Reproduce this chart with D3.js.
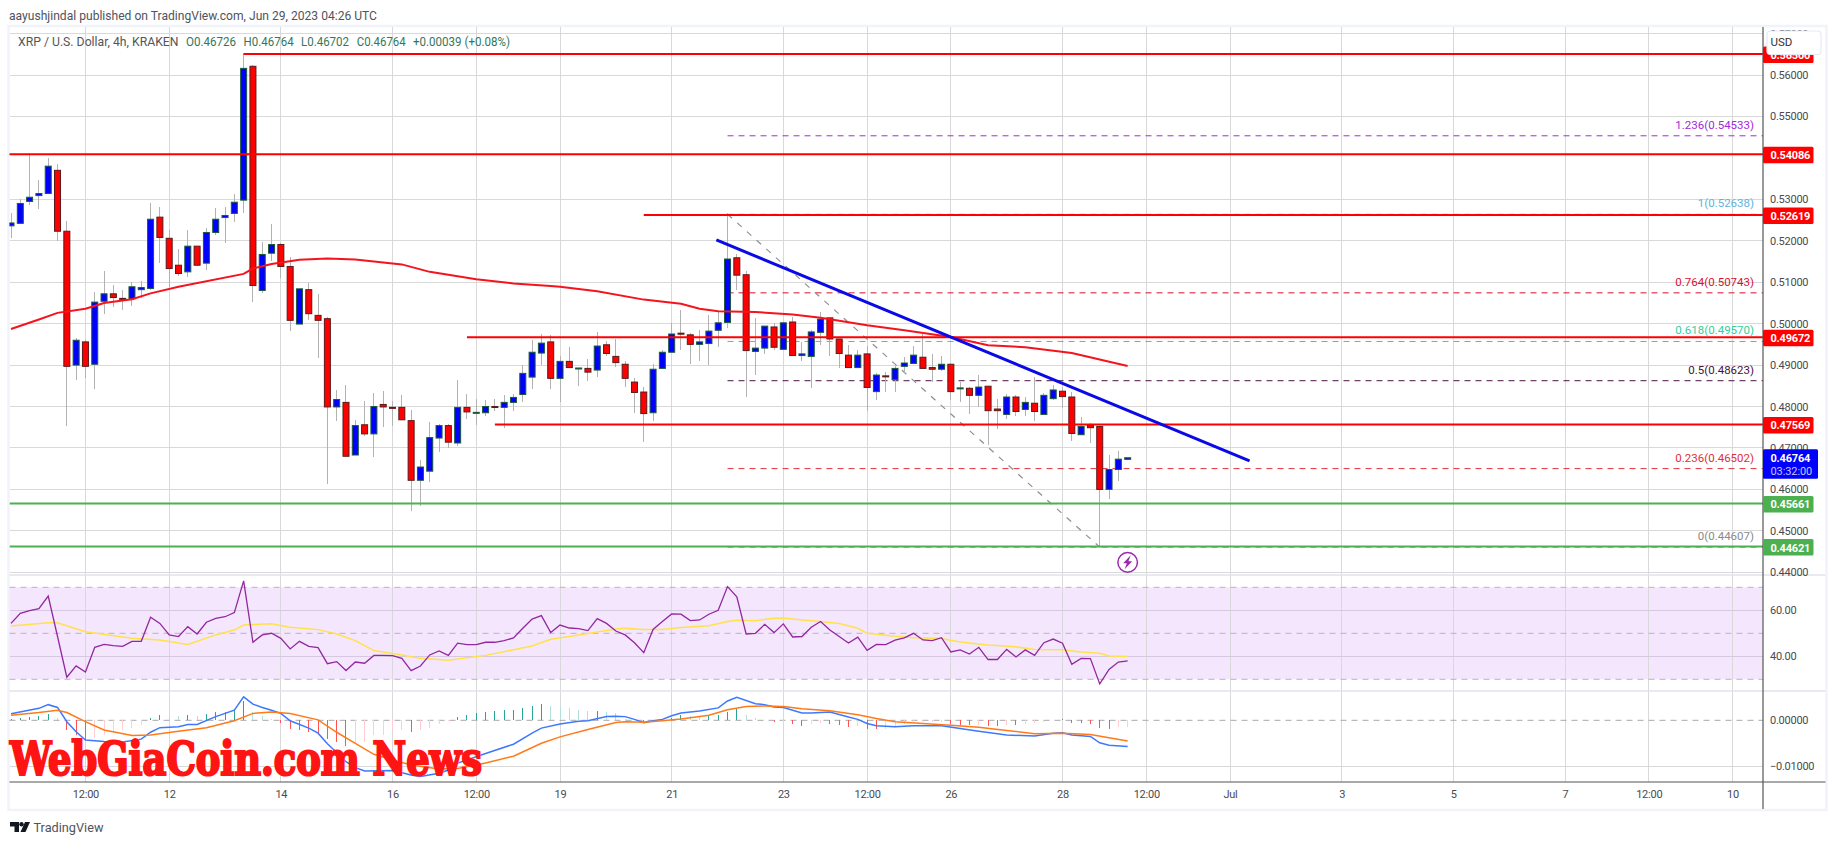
<!DOCTYPE html>
<html>
<head>
<meta charset="utf-8">
<script src="https://cdn.jsdelivr.net/npm/d3@7"></script>
<style>
  html, body { margin: 0; padding: 0; background: #fff; }
  text { font-family: "Roboto", "Liberation Sans", sans-serif; }
</style>
</head>
<body>
<div id="chart"></div>
<script>
// candles, 4h bars
const opens = [.5236,.5242,.5295,.5309,.5314,.5370,.5223,.4900,.4956,.4902,
  .5054,.5072,.5061,.5060,.5082,.5085,.5257,.5206,.5141,.5125,
  .5187,.5146,.5220,.5256,.5266,.5298,.5621,.5080,.5170,.5191,
  .5138,.4999,.5082,.5020,.5012,.4799,.4810,.4683,.4756,.4734,
  .4805,.4798,.4798,.4766,.4622,.4644,.4724,.4754,.4712,.4798,
  .4785,.4785,.4800,.4798,.4810,.4829,.4871,.4929,.4956,.4868,
  .4909,.4892,.4892,.4888,.4949,.4921,.4902,.4859,.4835,.4785,
  .4892,.4931,.4977,.4973,.4950,.4952,.4984,.5003,.5159,.5118,
  .4933,.4941,.4992,.4938,.5004,.4923,.4921,.4979,.5014,.4963,
  .4924,.4894,.4927,.4836,.4874,.4865,.4897,.4904,.4919,.4894,
  .4890,.4902,.4844,.4844,.4827,.4849,.4794,.4781,.4823,.4793,
  .4808,.4781,.4819,.4837,.4823,.4732,.4755,.4752,.4600,.4648,.46726]
const closes = [.5243,.5290,.5305,.5314,.5380,.5223,.4897,.4960,.4897,.5052,
  .5072,.5063,.5060,.5089,.5087,.5252,.5208,.5133,.5121,.5187,
  .5141,.5220,.5252,.5261,.5293,.5616,.5092,.5167,.5191,.5138,
  .5008,.5084,.5024,.5008,.4799,.4817,.4680,.4754,.4734,.4800,
  .4799,.4797,.4768,.4622,.4654,.4725,.4754,.4714,.4798,.4787,
  .4786,.4800,.4798,.4810,.4822,.4880,.4931,.4953,.4868,.4909,
  .4894,.4893,.4883,.4946,.4928,.4906,.4868,.4834,.4783,.4890,
  .4931,.4975,.4975,.4950,.4956,.4982,.5002,.5156,.5117,.4935,
  .4941,.4994,.4943,.5002,.4923,.4927,.4980,.5011,.4963,.4928,
  .4894,.4924,.4846,.4876,.4873,.4892,.4905,.4924,.4892,.4890,
  .4902,.4836,.4845,.4827,.4847,.4790,.4790,.4823,.4788,.4810,
  .4788,.4827,.4840,.4824,.4735,.4752,.4749,.4600,.4648,.4673,.46764]
const highs = [.5266,.5300,.5411,.5347,.5399,.5385,.5248,.4965,.4960,.5077,
  .5127,.5093,.5080,.5101,.5102,.5290,.5281,.5226,.5179,.5226,
  .5187,.5230,.5278,.5281,.5314,.5652,.5625,.5198,.5240,.5195,
  .5160,.5084,.5097,.5071,.5016,.4840,.4852,.4768,.4813,.4832,
  .4837,.4813,.4828,.4791,.4672,.4762,.4759,.4757,.4864,.4830,
  .4818,.4815,.4818,.4828,.4830,.4900,.4961,.4976,.4973,.4922,
  .4944,.4893,.4915,.4981,.4959,.4964,.4910,.4869,.4847,.4903,
  .4937,.5002,.5034,.4977,.4985,.5022,.5027,.5266,.5169,.5128,
  .5014,.4994,.5002,.5003,.5016,.4955,.4985,.5027,.5014,.4963,
  .4949,.4937,.4945,.4882,.4884,.4898,.4919,.4947,.4975,.4927,
  .4921,.4905,.4860,.4847,.4877,.4849,.4819,.4831,.4828,.4824,
  .4871,.4832,.4852,.4848,.4836,.4774,.4761,.4752,.4683,.4693,.46764]
const lows = [.5207,.5240,.5286,.5277,.5314,.5200,.4753,.4865,.4870,.4843,
  .5023,.5040,.5033,.5042,.5063,.5081,.5147,.5089,.5115,.5113,
  .5139,.5129,.5214,.5195,.5246,.5268,.5052,.5075,.5152,.5109,
  .4982,.4999,.5010,.4918,.4614,.4765,.4680,.4683,.4728,.4678,
  .4751,.4752,.4768,.4549,.4560,.4618,.4691,.4700,.4704,.4770,
  .4755,.4777,.4789,.4747,.4789,.4811,.4843,.4900,.4843,.4811,
  .4894,.4849,.4862,.4872,.4922,.4896,.4847,.4785,.4715,.4764,
  .4892,.4931,.4937,.4903,.4910,.4901,.4943,.4989,.5082,.4824,
  .4877,.4927,.4937,.4938,.4921,.4911,.4844,.4948,.4923,.4894,
  .4894,.4894,.4790,.4816,.4834,.4835,.4881,.4904,.4892,.4860,
  .4885,.4816,.4811,.4782,.4800,.4707,.4745,.4771,.4776,.4778,
  .4766,.4781,.4816,.4796,.4718,.4732,.4713,.4461,.4577,.4621,.46702]

// moving average over the candles
const emaBars = [0,3,5,8,10,13,15,18,25,26,28,31,34,37,42,45,50,54,58,59,63,68,72,74,76,80,84,87,92,96,101,105,109,114,120]
const emaVals = [.4987,.5010,.5026,.5036,.5050,.5059,.5073,.5089,.5120,.5133,.5144,.5154,.5157,.5155,.5143,.5125,.5107,.5097,.5091,.5089,.5078,.5058,.5048,.5036,.5030,.5028,.5022,.5014,.4996,.4984,.4968,.4948,.4943,.4929,.4898]

// RSI pane
const rsi = [54.3,58.7,59.9,60.7,66.2,48.6,30.9,35.8,33.2,43.9,
  45.2,44.6,44.3,46.5,46.5,57.0,54.3,49.3,48.6,52.9,
  49.7,54.8,56.5,57.2,59.0,72.8,46.1,49.3,50.0,47.8,
  43.2,46.5,44.3,43.8,36.8,37.7,33.8,37.5,37.0,40.4,
  40.4,40.3,39.1,33.8,35.8,40.6,42.3,40.4,45.7,45.1,
  45.1,46.1,46.1,46.8,48.0,52.2,56.2,57.7,50.3,53.6,
  52.3,52.0,51.2,56.4,54.3,51.0,49.3,45.9,41.6,51.7,
  55.1,58.4,58.3,55.5,55.8,58.3,60.0,70.3,65.9,49.7,
  50.0,53.9,50.3,54.1,48.4,48.6,52.6,55.1,51.4,48.6,
  45.8,48.3,42.6,45.2,45.1,47.0,48.0,50.0,47.1,46.8,
  48.1,41.9,42.8,41.0,43.9,38.6,38.6,43.0,39.7,42.8,
  40.4,45.9,47.5,45.7,36.5,39.1,39.0,28.0,34.3,37.5,38.0]
const rsiMaBars = [0,4,5,8,13,16,19,22,24,25,28,30,33,35,37,39,42,44,47,51,54,56,58,60,63,65,66,68,70,72,75,77,78,80,82,83,85,87,89,91,92,95,97,100,102,105,108,110,113,115,117,118,120]
const rsiMaVals = [53.2,54.6,54.6,50.7,47.8,47.1,45.1,49.3,51.4,53.6,54.1,52.6,51.6,49.7,46.8,42.5,40.6,39.1,38.3,40.4,42.8,44.5,47.4,48.6,50.6,51.9,52.2,51.7,51.7,52.5,53.3,55.1,55.7,55.5,56.5,56.7,55.8,55.1,54.3,52.2,50.0,48.7,48.1,47.7,46.2,44.9,44.1,43.0,42.8,41.9,41.3,40.1,39.9]

// MACD pane
const macdBars = [0,3,4,5,6,7,8,10,12,14,15,16,18,19,20,22,24,25,26,27,28,29,30,32,33,34,35,36,37,38,41,43,44,46,47,48,51,54,56,57,59,61,62,64,65,66,67,68,69,70,71,72,74,76,77,78,80,81,82,83,85,86,88,90,91,92,93,95,97,100,102,104,107,110,112,113,114,116,117,118,120]
const macdVals = [.0014,.0026,.0034,.0028,-.0003,-.0025,-.0043,-.0046,-.0047,-.0041,-.0026,-.0016,-.0014,-.0009,-.0009,.0008,.0022,.0051,.0035,.0028,.0022,.0015,-.0001,-.0017,-.0028,-.0051,-.0070,-.0090,-.0103,-.0110,-.0109,-.0119,-.0122,-.0115,-.0108,-.0093,-.0072,-.0052,-.0028,-.0017,-.0008,-.0002,-.0001,.0008,.0009,.0008,.0002,-.0005,-.0001,.0002,.0010,.0016,.0020,.0027,.0042,.0050,.0036,.0034,.0029,.0028,.0016,.0016,.0018,.0007,.0002,-.0007,-.0012,-.0014,-.0012,-.0012,-.0018,-.0024,-.0032,-.0034,-.0028,-.0027,-.0032,-.0035,-.0049,-.0054,-.0057]
const signalBars = [0,3,5,6,8,10,13,15,18,21,24,26,28,30,33,35,37,39,41,43,46,48,51,54,57,59,62,65,66,68,70,72,75,77,79,81,83,85,88,91,93,95,98,101,104,107,110,113,116,118,120]
const signalVals = [.0011,.0017,.0022,.0017,-.0003,-.0021,-.0033,-.0032,-.0024,-.0016,-.0001,.0015,.0018,.0015,.0001,-.0026,-.0050,-.0074,-.0086,-.0097,-.0106,-.0105,-.0093,-.0078,-.0050,-.0036,-.0020,-.0005,-.0003,-.0004,-.0001,.0003,.0011,.0023,.0030,.0031,.0030,.0025,.0021,.0012,.0004,-.0003,-.0007,-.0011,-.0015,-.0022,-.0029,-.0028,-.0031,-.0038,-.0045]
const hist = [.0003,.0005,.0007,.0009,.0014,.0005,-.0022,-.0033,-.0043,-.0038,
  -.0031,-.0025,-.0021,-.0017,-.0011,.0005,.0012,.0010,.0009,.0011,
  .0010,.0013,.0017,.0018,.0022,.0043,.0019,.0010,.0003,-.0005,
  -.0018,-.0021,-.0025,-.0028,-.0041,-.0048,-.0056,-.0051,-.0047,-.0032,
  -.0031,-.0021,-.0020,-.0025,-.0022,-.0016,-.0009,-.0002,.0007,.0012,
  .0016,.0018,.0020,.0022,.0023,.0026,.0032,.0036,.0031,.0030,
  .0027,.0022,.0020,.0021,.0017,.0015,.0003,.0001,-.0005,.0001,
  .0002,.0004,.0011,.0010,.0007,.0010,.0012,.0019,.0025,.0011,
  .0004,.0001,-.0004,-.0002,-.0007,-.0012,-.0009,-.0006,-.0007,-.0010,
  -.0014,-.0013,-.0018,-.0019,-.0018,-.0014,-.0007,-.0005,-.0004,-.0004,
  -.0004,-.0009,-.0010,-.0011,-.0010,-.0012,-.0013,-.0010,-.0011,-.0007,
  -.0005,-.0004,.0001,.0002,-.0005,-.0006,-.0007,-.0016,-.0018,-.0015,-.0014]

// axes
const priceTicks = [.57,.56,.55,.53,.52,.51,.50,.49,.48,.47,.46,.45,.44]
const rsiTicks = [60,40]
const macdTicks = [0,-.01]
const timeBars = [8,17,29,41,50,59,71,83,92,101,113,122,131,143,155,167,176,185]
const timeLabels = ["12:00","12","14","16","12:00","19","21","23","12:00","26","28","12:00","Jul","3","5","7","12:00","10"]

// drawn levels
const redLevels = [.56508,.54086,.52619,.49672,.47569]
const redStarts = [25,-1,68,49,52]
const redLabels = ["0.56500","0.54086","0.52619","0.49672","0.47569"]
const greenLevels = [.45661,.44621]
const greenLabels = ["0.45661","0.44621"]
const fibLevels = ["1.236","1","0.764","0.618","0.5","0.236","0"]
const fibPrices = [.54533,.52638,.50743,.4957,.48623,.46502,.44607]
const fibColors = ["#a32bd8","#5fb4dc","#dc1030","#33cf9d","#4b1240","#e03038","#8a8a8a"]
const fibStart = 77
const trendBars = [75.8,133.1]
const trendPrices = [.5202,.4669]
const boltPrice = .4424

// layout
const width = 1835, height = 845
const left = 9.5, right = 1763, frameRight = 1825.5
const top_ = 27, priceBottom = 575, rsiBottom = 691, macdBottom = 782, frameBottom = 809

const x = d3.scaleLinear().domain([0, 185]).range([11, 1732.5])
const y = d3.scaleLinear().domain([.56, .44]).range([75, 572.3])
const yRsi = d3.scaleLinear().domain([60, 40]).range([610.3, 656.3])
const yMacd = d3.scaleLinear().domain([0, -.01]).range([720.3, 766.3])

const svg = d3.select("#chart").append("svg")
  .attr("width", width).attr("height", height)
  .style("display", "block")

const clip = (id, y0, y1) => svg.append("clipPath").attr("id", id).append("rect")
  .attr("x", left).attr("y", y0).attr("width", right - left).attr("height", y1 - y0)
clip("pricePane", top_, priceBottom)
clip("rsiPane", priceBottom, rsiBottom)
clip("macdPane", rsiBottom, macdBottom)

// frame
svg.append("rect").attr("x", left - 1).attr("y", top_ - 1).attr("width", frameRight - left + 2).attr("height", frameBottom - top_ + 2)
  .attr("fill", "#fff").attr("stroke", "#f0f3fa").attr("stroke-width", 2.5)

const gridColor = "#d9d9d9"

// rsi band goes under the grid
svg.append("rect").attr("x", left).attr("width", right - left)
  .attr("y", yRsi(70)).attr("height", yRsi(30) - yRsi(70)).attr("fill", "#f4e6fd")

// grid
const grid = svg.append("g").attr("stroke", gridColor).attr("stroke-width", 1).attr("shape-rendering", "crispEdges")
grid.selectAll(".v").data(timeBars).enter().append("line")
  .attr("x1", d => x(d)).attr("x2", d => x(d)).attr("y1", top_).attr("y2", macdBottom)
grid.selectAll(".hp").data(priceTicks).enter().append("line")
  .attr("x1", left).attr("x2", right).attr("y1", d => y(d)).attr("y2", d => y(d))
grid.selectAll(".hr").data(rsiTicks).enter().append("line")
  .attr("x1", left).attr("x2", right).attr("y1", d => yRsi(d)).attr("y2", d => yRsi(d)).attr("stroke", "#d5c8e0")
grid.selectAll(".hm").data(macdTicks.slice(1)).enter().append("line")
  .attr("x1", left).attr("x2", right).attr("y1", d => yMacd(d)).attr("y2", d => yMacd(d))

// pane separators
svg.selectAll(".sep").data([priceBottom, rsiBottom]).enter().append("line")
  .attr("x1", left).attr("x2", frameRight).attr("y1", d => d).attr("y2", d => d)
  .attr("stroke", "#e0e3eb").attr("stroke-width", 1.5)

// rsi dashed levels
svg.selectAll(".rl").data([70, 50, 30]).enter().append("line")
  .attr("x1", left).attr("x2", right).attr("y1", d => yRsi(d)).attr("y2", d => yRsi(d))
  .attr("stroke", "#bdb0c4").attr("stroke-dasharray", "6 5")
svg.append("line").attr("x1", left).attr("x2", right).attr("y1", yMacd(0)).attr("y2", yMacd(0))
  .attr("stroke", "#a8a8ad").attr("stroke-dasharray", "6 5")

// price pane
const price = svg.append("g").attr("clip-path", "url(#pricePane)")

// fib levels
price.selectAll(".fib").data(fibPrices).enter().append("line")
  .attr("x1", x(fibStart)).attr("x2", right).attr("y1", d => y(d)).attr("y2", d => y(d))
  .attr("stroke", (d, i) => fibColors[i]).attr("stroke-dasharray", "6 5").attr("stroke-width", 1)

// fib diagonal
price.append("line")
  .attr("x1", x(77)).attr("y1", y(.5264)).attr("x2", x(117)).attr("y2", y(.44607))
  .attr("stroke", "#8f8f8f").attr("stroke-dasharray", "6 7").attr("stroke-width", 1.2)

// candles
const candles = d3.range(opens.length)
price.selectAll(".wick").data(candles).enter().append("line")
  .attr("x1", i => x(i)).attr("x2", i => x(i))
  .attr("y1", i => y(highs[i])).attr("y2", i => y(lows[i]))
  .attr("stroke", "#b2b2b2").attr("stroke-width", 1).attr("shape-rendering", "crispEdges")
price.selectAll(".body").data(candles).enter().append("rect")
  .attr("x", i => x(i) - 3).attr("width", 6)
  .attr("y", i => y(Math.max(opens[i], closes[i])))
  .attr("height", i => Math.max(1, Math.abs(y(opens[i]) - y(closes[i]))))
  .attr("fill", i => closes[i] >= opens[i] ? "#0000ff" : "#ff0000")
  .attr("stroke", i => closes[i] >= opens[i] ? "#1c5a3a" : "#5a1a1a")
  .attr("stroke-width", 1)

// ema
const lineAt = (yScale) => d3.line().x(d => x(d[0])).y(d => yScale(d[1]))
price.append("path").datum(d3.zip(emaBars, emaVals))
  .attr("d", lineAt(y)).attr("fill", "none").attr("stroke", "#f5141e").attr("stroke-width", 2)

// horizontal levels
price.selectAll(".red").data(redLevels).enter().append("line")
  .attr("x1", (d, i) => x(redStarts[i])).attr("x2", right).attr("y1", d => y(d)).attr("y2", d => y(d))
  .attr("stroke", "#ff0000").attr("stroke-width", 2)
price.selectAll(".green").data(greenLevels).enter().append("line")
  .attr("x1", left).attr("x2", right).attr("y1", d => y(d)).attr("y2", d => y(d))
  .attr("stroke", "#4caf50").attr("stroke-width", 2)

// trend line
price.append("line")
  .attr("x1", x(trendBars[0])).attr("x2", x(trendBars[1]))
  .attr("y1", y(trendPrices[0])).attr("y2", y(trendPrices[1]))
  .attr("stroke", "#0a0ae6").attr("stroke-width", 3)

// fib labels
price.selectAll(".fibText").data(fibPrices).enter().append("text")
  .attr("x", 1754).attr("y", d => y(d) - 7)
  .attr("text-anchor", "end").attr("font-size", 11.5)
  .attr("fill", (d, i) => fibColors[i])
  .text((d, i) => fibLevels[i] + "(" + d.toFixed(5) + ")")

// lightning mark
const bolt = price.append("g").attr("transform", "translate(" + x(120) + "," + y(boltPrice) + ")")
bolt.append("circle").attr("r", 9.8).attr("fill", "#fff").attr("stroke", "#9c27b0").attr("stroke-width", 1.5)
bolt.append("path").attr("d", "M3,-7 L-4.5,1 L-0.8,1 L-3,7 L4.5,-1 L0.8,-1 Z").attr("fill", "#9c27b0")

// rsi pane
const rsiPane = svg.append("g").attr("clip-path", "url(#rsiPane)")
rsiPane.append("path").datum(d3.zip(rsiMaBars, rsiMaVals))
  .attr("d", lineAt(yRsi)).attr("fill", "none").attr("stroke", "#ffe24a").attr("stroke-width", 1.5)
rsiPane.append("path").datum(rsi.map((d, i) => [i, d]))
  .attr("d", lineAt(yRsi)).attr("fill", "none").attr("stroke", "#92279f").attr("stroke-width", 1.3)

// macd pane
const macdPane = svg.append("g").attr("clip-path", "url(#macdPane)")
const histColor = (d, i) => {
  const prev = i > 0 ? hist[i - 1] : 0
  if (d >= 0) return d >= prev ? "#26a69a" : "#b2dfdb"
  return d < prev ? "#ff5252" : "#ffcdd2"
}
macdPane.selectAll(".hist").data(hist).enter().append("line")
  .attr("x1", (d, i) => x(i)).attr("x2", (d, i) => x(i))
  .attr("y1", yMacd(0)).attr("y2", d => yMacd(d))
  .attr("stroke", histColor).attr("stroke-width", 1).attr("shape-rendering", "crispEdges")
macdPane.append("path").datum(d3.zip(macdBars, macdVals))
  .attr("d", lineAt(yMacd)).attr("fill", "none").attr("stroke", "#3d78ff").attr("stroke-width", 1.5)
macdPane.append("path").datum(d3.zip(signalBars, signalVals))
  .attr("d", lineAt(yMacd)).attr("fill", "none").attr("stroke", "#ff7a1a").attr("stroke-width", 1.5)

// axis lines
svg.append("line").attr("x1", right).attr("x2", right).attr("y1", top_).attr("y2", frameBottom).attr("stroke", "#555").attr("stroke-width", 1.2)
svg.append("line").attr("x1", left).attr("x2", frameRight).attr("y1", macdBottom).attr("y2", macdBottom).attr("stroke", "#555").attr("stroke-width", 1.2)

// axes
const axisText = g => {
  g.select(".domain").remove()
  g.selectAll("text").attr("font-family", "Roboto").attr("font-size", 11).attr("fill", "#4a4a4f")
    .style("letter-spacing", "-0.25px")
}
svg.append("g").attr("transform", "translate(" + right + ",0)")
  .call(d3.axisRight(y).tickValues(priceTicks).tickSize(0).tickPadding(7).tickFormat(d3.format(".5f")))
  .call(axisText)
svg.append("g").attr("transform", "translate(" + right + ",0)")
  .call(d3.axisRight(yRsi).tickValues(rsiTicks).tickSize(0).tickPadding(7).tickFormat(d3.format(".2f")))
  .call(axisText)
svg.append("g").attr("transform", "translate(" + right + ",0)")
  .call(d3.axisRight(yMacd).tickValues(macdTicks).tickSize(0).tickPadding(7).tickFormat(d => d3.format(".5f")(d).replace("-", "\u2212")))
  .call(axisText)
const xAxis = svg.append("g").attr("transform", "translate(0," + macdBottom + ")")
  .call(d3.axisBottom(x).tickValues(timeBars).tickSize(0).tickPadding(8).tickFormat((d, i) => timeLabels[i]))
  .call(axisText)

// price tags on the axis
const tag = (val, label, fill) => {
  const g = svg.append("g").attr("transform", "translate(" + right + "," + y(val) + ")")
  g.append("rect").attr("x", 0).attr("y", -7.5).attr("width", 50.5).attr("height", 16.5).attr("rx", 1.5).attr("fill", fill)
  g.append("text").attr("x", 7.5).attr("y", 5).attr("font-size", 11).attr("font-weight", 700).attr("fill", "#fff")
    .style("letter-spacing", "-0.2px").text(label)
}
greenLevels.forEach((d, i) => tag(d, greenLabels[i], "#4caf50"))
redLevels.forEach((d, i) => tag(d, redLabels[i], "#ff0000"))

// current price tag
const lastY = y(closes[closes.length - 1])
svg.append("rect").attr("x", right).attr("y", lastY - 8.5).attr("width", 55).attr("height", 29.5).attr("rx", 1.5).attr("fill", "#0000ff")
svg.append("text").attr("x", right + 7.5).attr("y", lastY + 4.5).attr("font-size", 11).attr("font-weight", 700).attr("fill", "#fff")
  .style("letter-spacing", "-0.2px").text("0.46764")
svg.append("text").attr("x", right + 7.5).attr("y", lastY + 17.5).attr("font-size", 11).attr("fill", "#c4c4ff")
  .style("letter-spacing", "-0.1px").text("03:32:00")

// currency box
svg.append("rect").attr("x", 1767).attr("y", 31).attr("width", 54).attr("height", 23.5).attr("rx", 3.5)
  .attr("fill", "#fff").attr("stroke", "#e6e9f4").attr("stroke-width", 1.2)
svg.append("text").attr("x", 1770.5).attr("y", 46).attr("font-size", 11.5).attr("fill", "#333").text("USD")

// legend
const legendGreen = "#33775a"
svg.append("text").attr("x", 9).attr("y", 19.5).attr("font-size", 13).attr("fill", "#50535e")
  .attr("textLength", 368).attr("lengthAdjust", "spacingAndGlyphs")
  .text("aayushjindal published on TradingView.com, Jun 29, 2023 04:26 UTC")
svg.append("text").attr("x", 18).attr("y", 46).attr("font-size", 13).attr("fill", "#555")
  .attr("textLength", 160.5).attr("lengthAdjust", "spacingAndGlyphs")
  .text("XRP / U.S. Dollar, 4h, KRAKEN")
const legendX = [186, 243.6, 301, 356.7, 413]
const legendW = [50, 50, 48, 49, 97]
const legendText = ["O0.46726", "H0.46764", "L0.46702", "C0.46764", "+0.00039 (+0.08%)"]
svg.selectAll(".legend").data(legendText).enter().append("text")
  .attr("x", (d, i) => legendX[i]).attr("y", 46).attr("font-size", 13).attr("fill", legendGreen)
  .attr("textLength", (d, i) => legendW[i]).attr("lengthAdjust", "spacingAndGlyphs").text(d => d)

// watermark
svg.append("text").attr("x", 10).attr("y", 774.5)
  .attr("font-size", 46).attr("font-weight", 700)
  .attr("textLength", 472).attr("lengthAdjust", "spacingAndGlyphs")
  .style("font-family", "'DejaVu Serif Condensed','DejaVu Serif',serif")
  .attr("fill", "#ff1414").attr("stroke", "#ff1414").attr("stroke-width", 2.2)
  .text("WebGiaCoin.com News")

// tradingview mark
const tv = svg.append("g").attr("transform", "translate(10,822)").attr("fill", "#131722")
tv.append("path").attr("d", "M0,0 H9 V10 H4.5 V4.5 H0 Z")
tv.append("circle").attr("cx", 11.5).attr("cy", 2.2).attr("r", 2.2)
tv.append("path").attr("d", "M15,0 H20 L15.5,10 H10.5 Z")
svg.append("text").attr("x", 33.5).attr("y", 832).attr("font-size", 13.5).attr("fill", "#50535e")
  .attr("textLength", 70).attr("lengthAdjust", "spacingAndGlyphs").text("TradingView")
</script>
</body>
</html>
